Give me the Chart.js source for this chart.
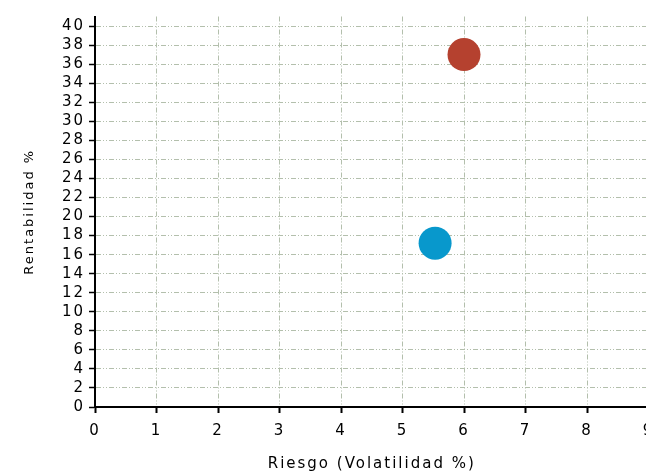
<!DOCTYPE html>
<html>
<head>
<meta charset="utf-8">
<script src="https://cdn.jsdelivr.net/npm/chart.js@4"></script>
<style>
  html, body { margin: 0; padding: 0; background: #fff; overflow: hidden; }
  #wrap { width: 720px; height: 473px; }
</style>
</head>
<body>
<div id="wrap"><canvas id="chart"></canvas></div>
<script>
// data
const fundNames = ['Fondo', 'Indice'];
const riskValues = [6.0, 5.53];      // Riesgo (Volatilidad %)
const returnValues = [37.0, 17.2];   // Rentabilidad %
const pointColors = ['#b5412f', '#0898cc'];
const xTickValues = [0, 1, 2, 3, 4, 5, 6, 7, 8, 9];
const yTickValues = [0, 2, 4, 6, 8, 10, 12, 14, 16, 18, 20, 22, 24, 26, 28, 30, 32, 34, 36, 38, 40];
const yAxisTop = 41;

const gridColor = '#b3bfac';

const datasets = fundNames.map(function (name, i) {
    return {
        label: name,
        data: [{ x: riskValues[i], y: returnValues[i] }],
        backgroundColor: pointColors[i],
        borderWidth: 0,
        pointRadius: 16.5,
        pointHoverRadius: 16.5
    };
});

// the original text is drawn a bit spaced out
const spacedText = {
    id: 'spacedText',
    beforeDraw: function (chart) { chart.ctx.letterSpacing = '2px'; },
    afterDraw: function (chart) { chart.ctx.letterSpacing = '0px'; }
};

new Chart(document.getElementById('chart'), {
    type: 'scatter',
    data: { datasets: datasets },
    plugins: [spacedText],
    options: {
        responsive: true,
        maintainAspectRatio: false,
        animation: false,
        layout: { padding: { top: 14, left: 0, right: 71.5, bottom: 0 } },
        plugins: { legend: { display: false }, tooltip: { enabled: false } },
        scales: {
            x: {
                type: 'linear',
                min: xTickValues[0],
                max: xTickValues[xTickValues.length - 1],
                afterFit: function (scale) { scale.height = 66; },
                afterBuildTicks: function (scale) {
                    scale.ticks = xTickValues.map(function (v) { return { value: v }; });
                },
                ticks: {
                    autoSkip: false,
                    color: '#000',
                    padding: 9,
                    font: { family: 'DejaVu Sans', size: 15 }
                },
                grid: {
                    color: gridColor,
                    lineWidth: 1,
                    tickColor: '#000',
                    tickWidth: 2,
                    tickLength: 6
                },
                border: { display: true, color: '#000', width: 2, dash: [5, 2, 1, 2, 1, 2] },
                title: {
                    display: true,
                    text: 'Riesgo (Volatilidad %)',
                    color: '#000',
                    padding: { top: 0, bottom: 0 },
                    font: { family: 'DejaVu Sans', size: 15 }
                }
            },
            y: {
                type: 'linear',
                min: yTickValues[0],
                max: yAxisTop,
                afterFit: function (scale) { scale.width = 95; },
                afterBuildTicks: function (scale) {
                    scale.ticks = yTickValues.map(function (v) { return { value: v }; });
                },
                ticks: {
                    autoSkip: false,
                    color: '#000',
                    padding: 4,
                    font: { family: 'DejaVu Sans', size: 15 }
                },
                grid: {
                    color: gridColor,
                    lineWidth: 1,
                    tickColor: '#000',
                    tickWidth: 1.5,
                    tickLength: 6
                },
                border: { display: true, color: '#000', width: 2, dash: [5, 2, 1, 2, 1, 2] },
                title: {
                    display: true,
                    text: 'Rentabilidad %',
                    color: '#000',
                    padding: { top: 22, bottom: 0 },
                    font: { family: 'DejaVu Sans', size: 13 }
                }
            }
        }
    }
});
</script>
</body>
</html>
